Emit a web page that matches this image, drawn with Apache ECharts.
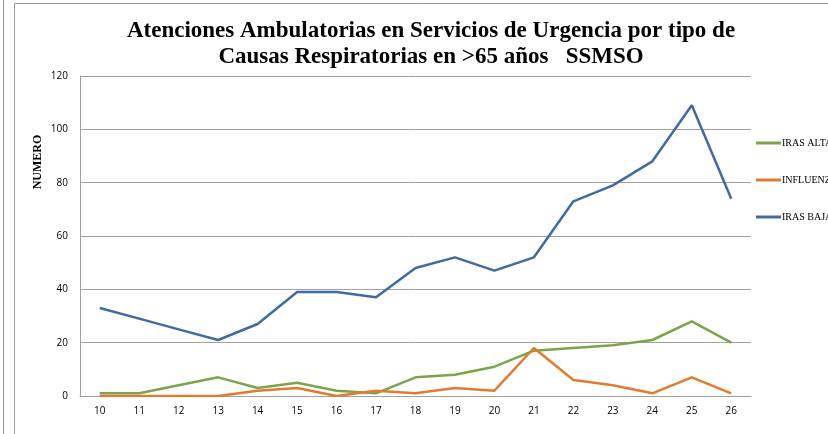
<!DOCTYPE html>
<html>
<head>
<meta charset="utf-8">
<script src="https://cdn.jsdelivr.net/npm/echarts@6/dist/echarts.min.js"></script>
<style>
html, body { margin: 0; padding: 0; background: #fff; }
#chart { width: 828px; height: 434px; }
</style>
</head>
<body>
<div id="chart"></div>
<script>
var semanas = ['10','11','12','13','14','15','16','17','18','19','20','21','22','23','24','25','26'];
var irasAltas = [1, 1, 4, 7, 3, 5, 2, 1, 7, 8, 11, 17, 18, 19, 21, 28, 20];
var influenza = [0, 0, 0, 0, 2, 3, 0, 2, 1, 3, 2, 18, 6, 4, 1, 7, 1];
var irasBajas = [33, 29, 25, 21, 27, 39, 39, 37, 48, 52, 47, 52, 73, 79, 88, 109, 74];

var myChart = echarts.init(document.getElementById('chart'));

function serie(name, color, data) {
    return {
        name: name,
        type: 'line',
        data: data,
        symbol: 'none',
        smooth: false,
        lineStyle: { color: color, width: 2.5 },
        itemStyle: { color: color }
    };
}

var option = {
    backgroundColor: '#ffffff',
    animation: false,
    title: {
        text: 'Atenciones Ambulatorias en Servicios de Urgencia por tipo de\nCausas Respiratorias en >65 años   SSMSO',
        left: 426,
        textAlign: 'center',
        top: 13,
        textStyle: {
            fontFamily: 'Liberation Serif',
            fontWeight: 'bold',
            fontSize: 23,
            lineHeight: 26,
            color: '#000'
        }
    },
    legend: {
        orient: 'vertical',
        left: 751,
        top: 133,
        itemGap: 27,
        itemWidth: 25,
        itemHeight: 3,
        icon: 'rect',
        textStyle: { fontFamily: 'Liberation Serif', fontSize: 10, color: '#000', padding: [0, 0, 0, -4] },
        data: ['IRAS ALTAS', 'INFLUENZA', 'IRAS BAJAS']
    },
    grid: { left: 80, right: 77, top: 76, bottom: 38 },
    xAxis: {
        type: 'category',
        boundaryGap: true,
        data: semanas,
        axisLine: { lineStyle: { color: '#a0a0a0', width: 1 } },
        axisTick: { show: false },
        axisLabel: { color: '#000', fontFamily: 'Open Sans', fontSize: 10, margin: 10 }
    },
    yAxis: {
        type: 'value',
        min: 0,
        max: 120,
        interval: 20,
        axisLine: { show: true, lineStyle: { color: '#a0a0a0' } },
        axisTick: { show: false },
        axisLabel: { color: '#000', fontFamily: 'Open Sans', fontSize: 10, margin: 12 },
        splitLine: { lineStyle: { color: '#a0a0a0', width: 1 } }
    },
    graphic: [
        { type: 'line', shape: { x1: 3.5, y1: 0, x2: 3.5, y2: 434 }, style: { stroke: '#9a9a9a', lineWidth: 1 } },
        { type: 'polyline', shape: { points: [[14.5, 434], [14.5, 3.5], [828, 3.5]] }, style: { stroke: '#9a9a9a', fill: null, lineWidth: 1 } },
        {
            type: 'text',
            x: 38,
            y: 162,
            rotation: Math.PI / 2,
            style: {
                text: 'NUMERO',
                fontFamily: 'Liberation Serif',
                fontWeight: 'bold',
                fontSize: 12,
                fill: '#000',
                align: 'center',
                verticalAlign: 'middle'
            }
        }
    ],
    series: [
        serie('IRAS ALTAS', '#7ca44a', irasAltas),
        serie('INFLUENZA', '#e07b30', influenza),
        serie('IRAS BAJAS', '#3f6aa6', irasBajas)
    ]
};

myChart.setOption(option);
</script>
</body>
</html>
